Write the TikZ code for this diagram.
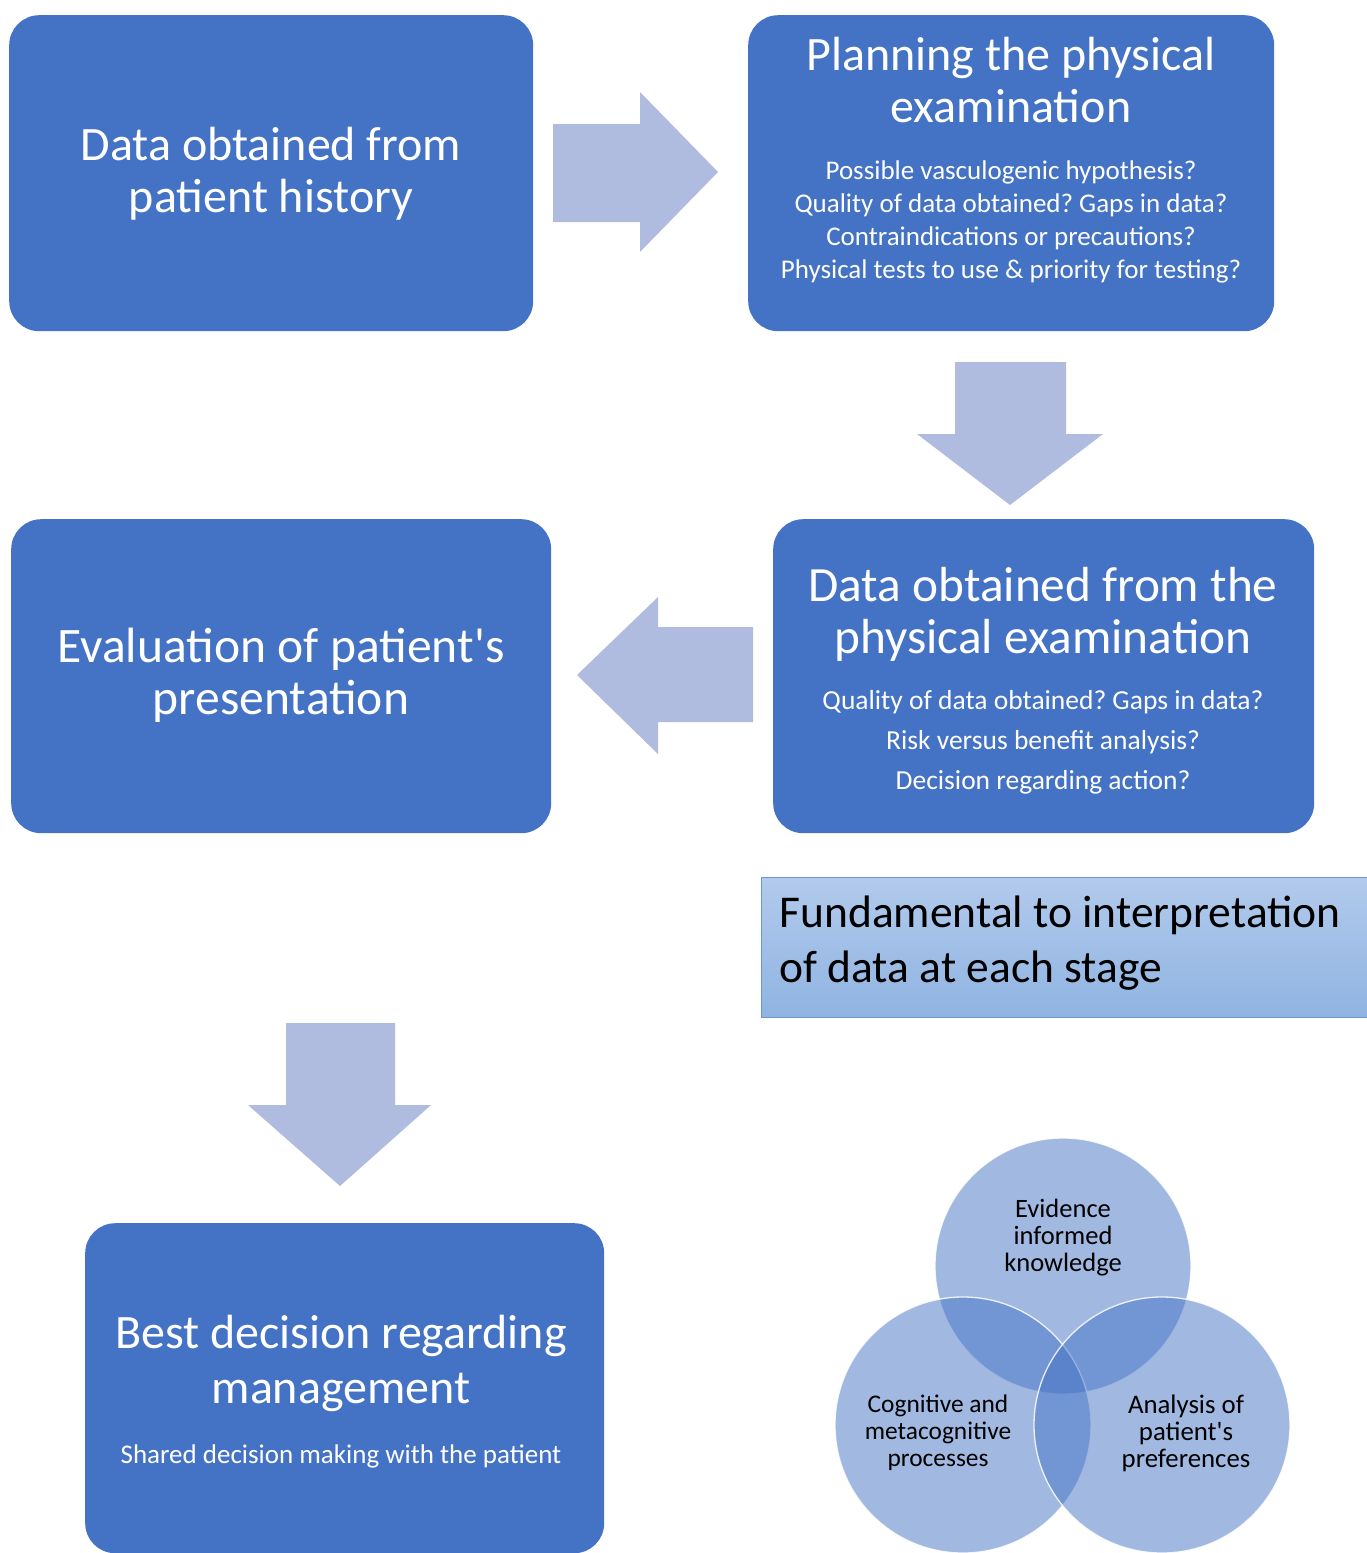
\documentclass[tikz,border=0pt]{standalone}
\usepackage{fontspec}
\setmainfont{Carlito}[Ligatures=TeXOff]
\frenchspacing
\definecolor{boxblue}{RGB}{68,114,196}
\definecolor{arrowblue}{RGB}{176,188,223}
\definecolor{fundtop}{RGB}{178,202,236}
\definecolor{fundbot}{RGB}{143,180,226}
\definecolor{fundedge}{RGB}{104,152,212}
\tikzset{
  stagebox/.style={fill=boxblue, draw=none, rounded corners=30pt, anchor=north west, inner sep=0pt},
  blockarrow/.style={fill=arrowblue, draw=none},
  titletext/.style={text=white, align=center, font=\fontsize{48}{52}\selectfont},
  subtext/.style={text=white, align=center, font=\fontsize{27}{33}\selectfont},
  venncircle/.style={circle, minimum size=256pt, inner sep=0pt, fill=boxblue, fill opacity=0.5, draw=white, draw opacity=0.85, line width=1.3pt},
  venntext/.style={text=black, align=center, font=\fontsize{26.5}{27}\selectfont},
}
\begin{document}
\begin{tikzpicture}[x=1pt,y=-1pt]
\useasboundingbox (0,0) rectangle (1366,1553);
% boxes
\node[stagebox, minimum width=524pt, minimum height=316pt] (hist) at (9,15) {};
\node[stagebox, minimum width=526pt, minimum height=316pt] (plan) at (748,15) {};
\node[stagebox, minimum width=541pt, minimum height=314pt] (phys) at (773,519) {};
\node[stagebox, minimum width=540pt, minimum height=314pt] (eval) at (11,519) {};
\node[stagebox, minimum width=519pt, minimum height=330pt] (best) at (85,1223) {};
% texts
\node[titletext] (histT) at (271,174) {Data obtained from\\patient history};
\node[titletext] (planT) at (1011,80) {Planning the physical\\examination};
\node[subtext] (planS) at (1011,222) {Possible vasculogenic hypothesis?\\Quality of data obtained? Gaps in data?\\Contraindications or precautions?\\Physical tests to use \& priority for testing?};
\node[titletext, font=\fontsize{49.3}{52}\selectfont] (physT) at (1043,614) {Data obtained from the\\physical examination};
\node[subtext, font=\fontsize{27.5}{40}\selectfont] (physS) at (1043,742) {Quality of data obtained? Gaps in data?\\Risk versus benefit analysis?\\Decision regarding action?};
\node[titletext, font=\fontsize{49.6}{52}\selectfont] (evalT) at (281,675) {Evaluation of patient's\\presentation};
\node[titletext, font=\fontsize{48}{55}\selectfont] (bestT) at (341,1363) {Best decision regarding\\management};
\node[subtext, font=\fontsize{27}{30}\selectfont] (bestS) at (341,1456) {Shared decision making with the patient};
% block arrows
\fill[blockarrow] (553,124) -- (640,124) -- (640,92) -- (718,172) -- (640,252) -- (640,222) -- (553,222) -- cycle;
\fill[blockarrow] (955,362) -- (1066,362) -- (1066,434) -- (1103,434) -- (1010,505) -- (917,434) -- (955,434) -- cycle;
\fill[blockarrow] (753,627) -- (658,627) -- (658,597) -- (577,675) -- (658,754) -- (658,722) -- (753,722) -- cycle;
\fill[blockarrow] (286,1023) -- (395,1023) -- (395,1105) -- (431,1105) -- (340,1186) -- (248,1105) -- (286,1105) -- cycle;
% fundamental box
\node[anchor=north west, minimum width=620pt, minimum height=140pt, inner sep=0pt, top color=fundtop, bottom color=fundbot, draw=fundedge, line width=1.2pt] (fund) at (761,877) {};
\node[anchor=west, align=left, text=black, font=\fontsize{45.5}{55}\selectfont] (fundT) at (776,943) {Fundamental to interpretation\\of data at each stage};
% venn
\node[venncircle] (vtop) at (1063,1266) {};
\node[venncircle] (vleft) at (963,1425) {};
\node[venncircle] (vright) at (1162,1425) {};
\node[venntext] (vtopT) at (1063,1238) {Evidence\\informed\\knowledge};
\node[venntext, font=\fontsize{25.4}{27}\selectfont] (vleftT) at (938,1433) {Cognitive and\\metacognitive\\processes};
\node[venntext, font=\fontsize{26.8}{27}\selectfont] (vrightT) at (1186,1433) {Analysis of\\patient's\\preferences};
\end{tikzpicture}
\end{document}
